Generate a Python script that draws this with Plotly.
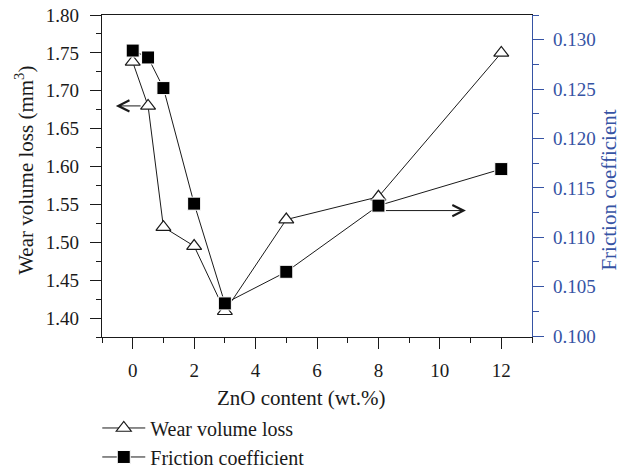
import plotly.graph_objects as go

# ---- data ----
zno = [0, 0.5, 1, 2, 3, 5, 8, 12]
wear_volume_loss = [1.738, 1.680, 1.520, 1.495, 1.409, 1.530, 1.560, 1.750]
friction_coefficient = [0.1289, 0.1282, 0.1251, 0.1134, 0.1033, 0.1065, 0.1132, 0.1169]

x_title = "ZnO content (wt.%)"
y_title = "Wear volume loss (mm<sup>3</sup>)"
y2_title = "Friction coefficient"

FONT = "Liberation Serif, DejaVu Serif, serif"
BLUE = "#3653a4"
BLACK = "#1a1a1a"

fig = go.Figure()
fig.add_trace(go.Scatter(
    x=zno, y=wear_volume_loss, name="Wear volume loss", mode="lines+markers",
    line=dict(color=BLACK, width=1),
    marker=dict(symbol="triangle-up", size=13, color="white",
                line=dict(color=BLACK, width=1.2)),
    yaxis="y"))
fig.add_trace(go.Scatter(
    x=zno, y=friction_coefficient, name="Friction coefficient", mode="lines+markers",
    line=dict(color=BLACK, width=1),
    marker=dict(symbol="square", size=13, color="black",
                line=dict(color="white", width=1)),
    yaxis="y2"))

tickfont = dict(family=FONT, size=19, color=BLACK)

fig.update_layout(
    width=633, height=468,
    margin=dict(l=102, r=101, t=15, b=131, autoexpand=False),
    paper_bgcolor="white", plot_bgcolor="white",
    font=dict(family=FONT, size=19, color=BLACK),
    showlegend=True,
    legend=dict(x=-0.011, y=-0.222, xanchor="left", yanchor="top",
                font=dict(family=FONT, size=20, color=BLACK),
                bgcolor="rgba(0,0,0,0)", tracegroupgap=0, itemwidth=43),
    xaxis=dict(range=[-1, 13], tick0=0, dtick=2, showgrid=False, zeroline=False,
               showline=True, linecolor=BLACK, linewidth=1.3, mirror=True,
               ticks="outside", ticklen=11, tickwidth=1.3, tickcolor=BLACK,
               tickfont=tickfont, ticklabelstandoff=5,
               minor=dict(dtick=1, tick0=0, ticks="outside", ticklen=5,
                          tickwidth=1.3, tickcolor=BLACK)),
    yaxis=dict(range=[1.375, 1.80], tick0=1.4, dtick=0.05, tickformat=".2f",
               showgrid=False, zeroline=False,
               showline=True, linecolor=BLACK, linewidth=1.3,
               ticks="outside", ticklen=11, tickwidth=1.3, tickcolor=BLACK,
               tickfont=tickfont, ticklabelstandoff=7,
               minor=dict(dtick=0.025, ticks="outside", ticklen=5,
                          tickwidth=1.3, tickcolor=BLACK)),
    yaxis2=dict(range=[0.0999, 0.1325], tick0=0.1, dtick=0.005, tickformat=".3f",
                overlaying="y", side="right", showgrid=False, zeroline=False,
                showline=True, linecolor=BLUE, linewidth=1.3,
                ticks="outside", ticklen=11, tickwidth=1.3, tickcolor=BLUE,
                tickfont=dict(family=FONT, size=19, color=BLUE), ticklabelstandoff=5,
                minor=dict(dtick=0.0025, ticks="outside", ticklen=6,
                           tickwidth=1.3, tickcolor=BLUE)),
)

# axis titles as annotations
fig.add_annotation(text=x_title, xref="paper", yref="paper", x=0.4645, y=-0.19,
                   xanchor="center", yanchor="middle", showarrow=False,
                   font=dict(family=FONT, size=21, color=BLACK))
fig.add_annotation(text=y_title, xref="paper", yref="paper", x=-0.18, y=0.518,
                   xanchor="center", yanchor="middle", showarrow=False, textangle=-90,
                   font=dict(family=FONT, size=21, color=BLACK))
fig.add_annotation(text=y2_title, xref="paper", yref="paper", x=1.18, y=0.456,
                   xanchor="center", yanchor="middle", showarrow=False, textangle=-90,
                   font=dict(family=FONT, size=21, color=BLUE))

# indicator arrows
fig.add_annotation(x=-0.55, y=1.68, ax=0.5, ay=1.68, xref="x", yref="y",
                   axref="x", ayref="y", showarrow=True, arrowhead=5, arrowsize=2.2,
                   arrowwidth=1, arrowcolor=BLACK, standoff=0, startstandoff=6, text="")
fig.add_annotation(x=10.85, y=0.1127, ax=8, ay=0.1127, xref="x", yref="y2",
                   axref="x", ayref="y2", showarrow=True, arrowhead=5, arrowsize=2.2,
                   arrowwidth=1, arrowcolor=BLACK, standoff=0, startstandoff=6, text="")

fig.write_html("out.html", config={"displayModeBar": False},
               post_script="document.body.style.margin='0';")
